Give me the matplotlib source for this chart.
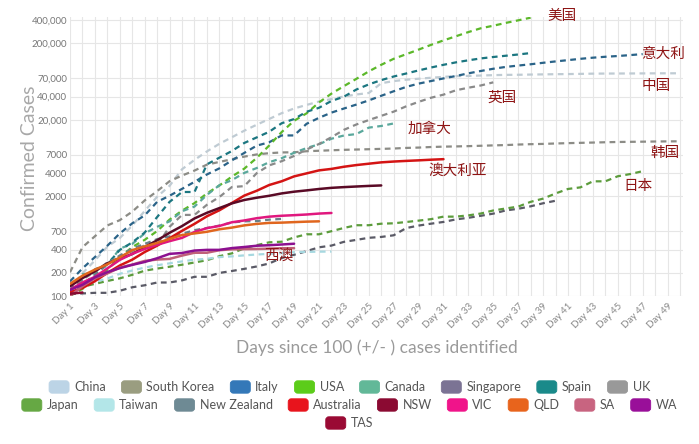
import numpy as np
import matplotlib
matplotlib.use("Agg")
import matplotlib.pyplot as plt
from matplotlib.patches import Patch, FancyBboxPatch
from matplotlib.legend_handler import HandlerPatch

plt.rcParams['font.family'] = ['Lato', 'Noto Sans CJK SC', 'DejaVu Sans']

# ---------------- data (confirmed cases by day since ~100 cases) ----------------
china = [121, 198, 291, 440, 571, 830, 1287, 1975, 2744, 4515, 5974, 7711, 9692, 11791,
         14380, 17205, 20438, 24324, 28018, 31161, 34546, 37198, 40171, 42638, 44653,
         59804, 63851, 66492, 68500, 70548, 72436, 74185, 74576, 75465, 76288, 76936,
         77150, 77658, 78064, 78497, 78824, 79251, 79824, 80026, 80151, 80270, 80409,
         80552, 80651, 80695]
south_korea = [204, 433, 602, 833, 977, 1261, 1766, 2337, 3150, 3736, 4335, 5186, 5621,
               6088, 6593, 7041, 7314, 7478, 7513, 7755, 7869, 7979, 8086, 8162, 8236,
               8320, 8413, 8565, 8652, 8799, 8897, 8961, 9037, 9137, 9241, 9332, 9478,
               9583, 9661, 9786, 9887, 9976, 10062, 10156, 10237, 10284, 10331, 10384,
               10423, 10450]
italy = [155, 229, 322, 453, 655, 888, 1128, 1694, 2036, 2502, 3089, 3858, 4636, 5883,
         7375, 9172, 10149, 12462, 12462, 17660, 21157, 24747, 27980, 31506, 35713, 41035,
         47021, 53578, 59138, 63927, 69176, 74386, 80589, 86498, 92472, 97689, 101739,
         105792, 110574, 115242, 119827, 124632, 128948, 132547, 135586, 139422, 143626]
usa = [100, 124, 158, 221, 319, 435, 541, 704, 994, 1301, 1630, 2183, 2770, 3613, 4596,
       6344, 9197, 13779, 19367, 24192, 33592, 43781, 54856, 68211, 85435, 104126, 124686,
       143055, 164359, 189618, 216721, 245540, 278458, 312245, 337072, 366667, 396223,
       429052]
canada = [117, 193, 198, 252, 415, 478, 657, 800, 943, 1277, 1469, 2088, 2790, 3251, 4042,
          4682, 5576, 6280, 7398, 8527, 9560, 11284, 12437, 12978, 15756, 16563, 17872]
singapore = [106, 108, 110, 110, 117, 130, 138, 150, 150, 160, 178, 178, 200, 212, 226,
             243, 266, 313, 345, 385, 432, 455, 509, 540, 575, 590, 620, 770, 830, 879,
             926, 1000, 1049, 1114, 1189, 1309, 1375, 1481, 1623, 1750]
spain = [120, 165, 222, 259, 400, 500, 673, 1073, 1695, 2277, 2277, 5232, 6391, 7798, 9942,
         11748, 13910, 17963, 20410, 25374, 28603, 35136, 39885, 49515, 57786, 65719, 73235,
         80110, 87956, 95923, 104118, 112065, 119199, 126168, 131646, 136675, 141942, 148220]
uk = [116, 164, 207, 274, 322, 384, 459, 459, 801, 1143, 1144, 1551, 1960, 2642, 2716, 4014,
      5067, 5745, 6726, 8164, 9640, 11812, 14745, 17312, 19780, 22453, 25481, 29865, 34173,
      38689, 42477, 48436, 52279, 55949, 61474]
japan = [105, 132, 144, 157, 170, 189, 214, 228, 241, 256, 274, 293, 331, 360, 420, 461, 502,
         511, 581, 639, 639, 701, 773, 839, 839, 878, 889, 924, 963, 1007, 1086, 1086, 1128,
         1193, 1307, 1387, 1468, 1693, 1866, 2178, 2495, 2617, 3139, 3139, 3654, 3906, 4257]
taiwan = [108, 135, 153, 169, 195, 215, 235, 252, 267, 283, 298, 306, 322, 329, 339, 348,
          355, 363, 373, 376, 379, 380]
new_zealand = [102, 142, 189, 262, 338, 416, 479, 552, 600, 647, 724, 772, 831, 911, 943,
               950, 992, 1015]
australia = [112, 127, 156, 200, 250, 298, 375, 454, 568, 709, 874, 1098, 1315, 1636, 2044,
             2364, 2810, 3143, 3640, 3984, 4361, 4559, 4862, 5116, 5330, 5550, 5687, 5797,
             5895, 6010, 6108]
nsw = [134, 171, 210, 267, 307, 353, 436, 533, 669, 818, 1029, 1219, 1405, 1617, 1791, 1918,
       2032, 2182, 2298, 2389, 2493, 2580, 2637, 2686, 2734, 2773]
vic = [121, 150, 178, 229, 296, 355, 411, 466, 520, 574, 685, 769, 821, 917, 968, 1036, 1085,
       1115, 1135, 1158, 1191, 1212]
qld = [144, 184, 221, 259, 319, 397, 443, 493, 555, 625, 656, 689, 743, 781, 835, 873, 900,
       907, 921, 934, 943]
sa = [100, 134, 170, 197, 235, 257, 287, 299, 305, 337, 367, 367, 396, 407, 409, 411, 415,
      420, 421]
wa = [120, 140, 175, 205, 231, 255, 278, 311, 355, 364, 392, 400, 400, 422, 436, 453, 460,
      470, 481]
tas = [107, 111]

n_days = 50
day_labels = [f"Day {i}" if i % 2 == 1 else "" for i in range(1, n_days + 1)]
y_ticks = [100, 200, 400, 700, 2000, 4000, 7000, 20000, 40000, 70000, 200000, 400000]
y_tick_labels = ["100", "200", "400", "700", "2000", "4000", "7000", "20,000", "40,000",
                 "70,000", "200,000", "400,000"]

# name, data, legend colour, line colour, solid?
series = [
    ("China", china, "#bcd4e6", "#bfcbd3", False),
    ("South Korea", south_korea, "#9a9d80", "#8c8c86", False),
    ("Italy", italy, "#3478b8", "#2a6388", False),
    ("USA", usa, "#5ccc1a", "#5cb82a", False),
    ("Canada", canada, "#62b898", "#5aa89c", False),
    ("Singapore", singapore, "#7b7394", "#5a5a66", False),
    ("Spain", spain, "#1a8a8a", "#1b7680", False),
    ("UK", uk, "#999999", "#8a8a8a", False),
    ("Japan", japan, "#66a844", "#5c9c3c", False),
    ("Taiwan", taiwan, "#b3e6e8", "#a6d8e0", False),
    ("New Zealand", new_zealand, "#6e8a94", "#6a8088", False),
    ("Australia", australia, "#e8141c", "#d41414", True),
    ("NSW", nsw, "#8b0a32", "#5a0a26", True),
    ("VIC", vic, "#f0148a", "#e0187e", True),
    ("QLD", qld, "#e8641c", "#e0661e", True),
    ("SA", sa, "#c86480", "#c06078", True),
    ("WA", wa, "#990f99", "#8c1090", True),
    ("TAS", tas, "#9a0a34", "#8a0a30", True),
]

W, H = 699, 444
fig = plt.figure(figsize=(W / 100, H / 100), dpi=100)
ax = fig.add_axes([70 / W, (H - 296) / H, 613 / W, 279 / H])

for name, vals, lc, col, solid in series:
    x = np.arange(1, len(vals) + 1)
    if solid:
        ax.plot(x, vals, color=col, lw=1.8, solid_capstyle='round', zorder=3)
    else:
        ax.plot(x, vals, color=col, lw=1.6, linestyle=(0, (2.6, 2.0)), zorder=2)

ax.set_yscale('log')
ax.set_ylim(100, 438000)
ax.set_xlim(1, 50.24)
ax.set_yticks(y_ticks)
ax.set_yticklabels(y_tick_labels)
ax.yaxis.set_minor_locator(matplotlib.ticker.NullLocator())
ax.set_xticks(np.arange(1, n_days + 1))
ax.set_xticklabels(day_labels, rotation=45, ha='right', rotation_mode='anchor')
ax.tick_params(axis='both', length=0, colors='#777777', labelsize=7)
ax.tick_params(axis='x', pad=4, labelcolor='#888888')
ax.tick_params(axis='y', pad=2)
ax.grid(True, color='#e6e6e6', lw=0.8, zorder=0)
for s in ax.spines.values():
    s.set_visible(False)

fig.text(30 / W, 1 - 158 / H, "Confirmed Cases", rotation=90, ha='center', va='center',
         fontsize=14, color='#a8a8a8')
fig.text(377 / W, 1 - 348 / H, "Days since 100 (+/- ) cases identified", ha='center',
         va='center', fontsize=12.5, color='#9a9a9a')

label_col = '#8e1414'
labels = [("美国", 562, 16), ("意大利", 663, 54), ("中国", 656, 86), ("英国", 502, 98),
          ("加拿大", 430, 129), ("韩国", 665, 153), ("澳大利亚", 458, 171), ("日本", 638, 186),
          ("西澳", 279, 256)]
for t, px, py in labels:
    fig.text(px / W, 1 - py / H, t, ha='center', va='center', fontsize=10.5, color=label_col,
             family=['Noto Sans CJK SC', 'DejaVu Sans'])


class RoundHandler(HandlerPatch):
    def create_artists(self, legend, orig_handle, xdescent, ydescent, width, height,
                       fontsize, trans):
        p = FancyBboxPatch((-xdescent, -ydescent), width, height,
                           boxstyle=f"round,pad=0,rounding_size={height * 0.25}",
                           facecolor=orig_handle.get_facecolor(),
                           edgecolor=orig_handle.get_edgecolor(), lw=0.6, transform=trans)
        return [p]


handles = {name: Patch(facecolor=lc, edgecolor=lc) for name, _, lc, _, _ in series}
rows = [["China", "South Korea", "Italy", "USA", "Canada", "Singapore", "Spain", "UK"],
        ["Japan", "Taiwan", "New Zealand", "Australia", "NSW", "VIC", "QLD", "SA", "WA"],
        ["TAS"]]
row_y = [387, 405, 423]
for names, py in zip(rows, row_y):
    leg = fig.legend([handles[n] for n in names], names, loc='center',
                     bbox_to_anchor=(0.5, 1 - py / H), ncol=len(names), frameon=False,
                     fontsize=9, handlelength=1.6, handleheight=1.15, handletextpad=0.4,
                     columnspacing=1.25, borderpad=0, borderaxespad=0,
                     handler_map={Patch: RoundHandler()})
    for t in leg.get_texts():
        t.set_color('#555555')

fig.savefig("out.png", dpi=100)
